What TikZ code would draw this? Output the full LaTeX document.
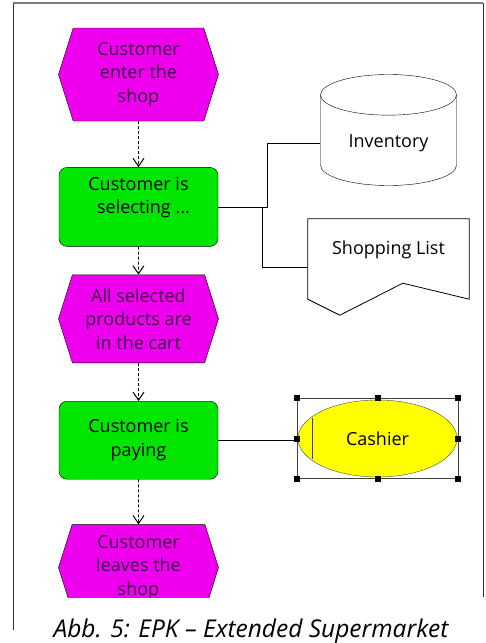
\documentclass[tikz,border=0pt]{standalone}
\usepackage{fontspec}
\setmainfont{Open Sans}
\usetikzlibrary{positioning, shapes.geometric, shapes.symbols, arrows.meta}
\definecolor{epkmagenta}{RGB}{238,0,238}
\definecolor{epkgreen}{RGB}{0,230,0}
\definecolor{epkyellow}{RGB}{255,255,0}
\definecolor{epktext}{RGB}{60,0,70}

\begin{document}
\begin{tikzpicture}[
        x = 1pt, y = -1pt,
        >= {Straight Barb[length = 8pt, width = 11pt, line width = 1pt]},
        Event/.style = {signal, signal to = west and east, signal pointer angle = 145, draw = black, fill = epkmagenta, text = epktext, align = center, minimum width = 160pt, inner sep = 1pt, font = \fontsize{18}{23.5}\selectfont},
        % 
        Function/.style = {rectangle, rounded corners = 8pt, draw = black, fill = epkgreen, align = center, minimum width = 159pt, minimum height = 79pt, font = \fontsize{18}{23.5}\selectfont},
        % 
        Store/.style = {cylinder, shape border rotate = 90, aspect = 0.47, draw = black, fill = white, minimum width = 136pt, minimum height = 111pt, font = \fontsize{18}{23.5}\selectfont},
        % 
        Role/.style = {ellipse, draw = black!70, fill = epkyellow, minimum width = 159pt, minimum height = 77pt, font = \fontsize{18}{23.5}\selectfont},
        % 
        Handle/.style = {rectangle, fill = black, inner sep = 0pt, minimum size = 6pt},
        % 
        Flow/.style = {->, dashed, dash pattern = on 3pt off 2pt, thick},
        % 
        Link/.style = {-, thick},
    ]
        \useasboundingbox (0,0) rectangle (485,643);

        % Frame
        \draw[gray, line width = 1.2pt] (13,3) -- (483,3);
        \draw[black!80, thick] (13,3) -- (13,630);
        \draw[black!80, thick] (483,3) -- (483,597);

        % Process
        \node[Event, minimum height = 93pt] (Enter) at (138.5,74.5) {Customer\\enter the\\shop};
        \node[Function] (Select) [below = 46pt of Enter] {Customer is\\\hspace*{10pt}selecting ...\\\mbox{}};
        \node[Event, minimum height = 88pt] (Cart) [below = 28pt of Select] {All selected\\products are\\in the cart};
        \node[Function, minimum height = 78pt] (Pay) [below = 38pt of Cart] {Customer is\\paying};
        \begin{scope}
            \clip (0,0) rectangle (485,597);
            \node[Event, minimum height = 86pt] (Leave) [below = 45pt of Pay] {Customer\\leaves the\\shop};
        \end{scope}

        % Resources
        \node[Store, anchor = shape center] (Inventory) at (388.5,130) {Inventory};
        \node[rectangle, minimum width = 161pt, minimum height = 80pt, text height = 13pt, text depth = 22pt, font = \fontsize{18}{23.5}\selectfont] (List) at (388.5,259) {Shopping List};
        \draw[thick] (List.north west) -- (List.north east) -- (List.south east)
            -- ([xshift = 95pt, yshift = 16pt]List.south west)
            -- ([xshift = 32pt, yshift = -16pt]List.south west) -- (List.south west) -- cycle;

        % Role
        \node[Role] (Cashier) at (377.5,438.5) {Cashier};
        \draw[black!70!olive, line width = 1.5pt] ([xshift = -65pt, yshift = 21pt]Cashier.center) -- ([xshift = -65pt, yshift = -20pt]Cashier.center);
        \node[rectangle, draw = black!75, thick, minimum width = 161pt, minimum height = 80pt] (Selection) at (Cashier.center) {};
        \foreach \anchor [count = \i] in {north west, north, north east, east, south east, south, south west, west}
            \node[Handle] (Handle\i) at (Selection.\anchor) {};

        % Arrows process
        \draw[Flow] (Enter) to node[]{} (Select);
        \draw[Flow] (Select) to node[]{} (Cart);
        \draw[Flow] (Cart) to node[]{} (Pay);
        \draw[Flow] (Pay) to node[]{} (Leave);

        % Links
        \draw[Link] (Select.east) -- ++(49,0) |- (Inventory.west);
        \draw[Link] (Select.east) -- ++(44,0) |- ([yshift = -8pt]List.west);
        \draw[Link] (Pay.east) -- (Pay.east -| Selection.west);

        % Caption
        \node[anchor = base, font = \fontsize{24.5}{29}\selectfont\itshape] (Caption) at (251,637) {Abb. 5: EPK -- Extended Supermarket};
    \end{tikzpicture}
\end{document}
